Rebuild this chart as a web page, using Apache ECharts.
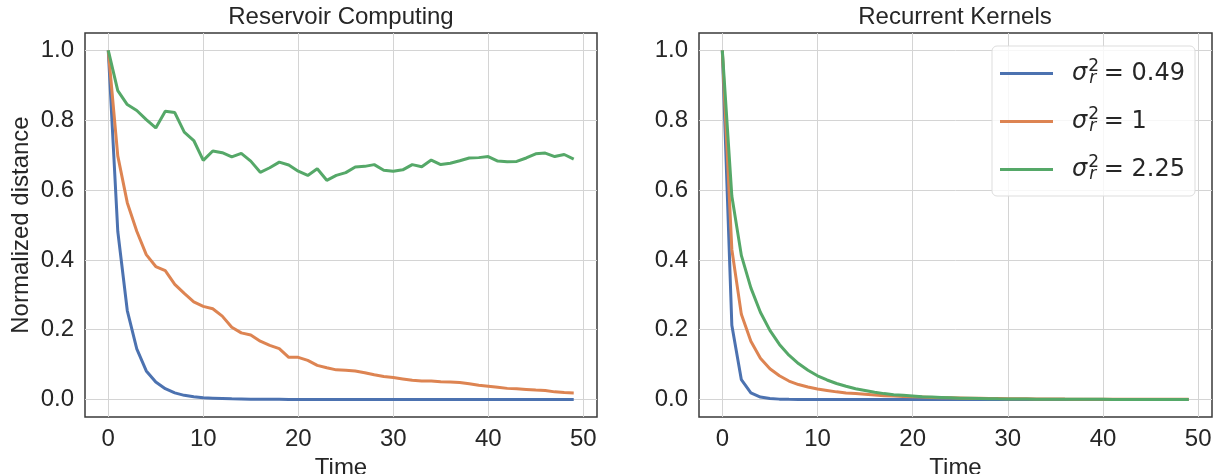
<!DOCTYPE html>
<html>
<head>
<meta charset="utf-8">
<script src="https://cdn.jsdelivr.net/npm/echarts@6/dist/echarts.min.js"></script>
<style>
  html, body { margin: 0; padding: 0; background: #fff; }
  #main { width: 1215px; height: 474px; }
</style>
</head>
<body>
<div id="main"></div>
<script>
// time steps on the x axis
const timeSteps = [0, 1, 2, 3, 4, 5, 6, 7, 8, 9, 10, 11, 12, 13, 14, 15, 16, 17, 18, 19,
    20, 21, 22, 23, 24, 25, 26, 27, 28, 29, 30, 31, 32, 33, 34, 35, 36, 37, 38, 39,
    40, 41, 42, 43, 44, 45, 46, 47, 48, 49];

const sigmaValues = ['0.49', '1', '2.25'];
const panelTitles = ['Reservoir Computing', 'Recurrent Kernels'];
const xTicks = [0, 10, 20, 30, 40, 50];
const yTicks = [0, 0.2, 0.4, 0.6, 0.8, 1.0];

// Reservoir Computing panel
const rcBlue = [1.0, 0.482, 0.255, 0.145, 0.082, 0.050, 0.031, 0.019, 0.012, 0.008,
    0.005, 0.004, 0.003, 0.002, 0.0015, 0.001, 0.0008, 0.0006, 0.0005, 0.0004,
    0.0003, 0.0003, 0.0002, 0.0002, 0.0002, 0.0001, 0.0001, 0.0001, 0.0001, 0.0001,
    0.0001, 0.0001, 0.0001, 0.0001, 0.0001, 0.0001, 0.0001, 0.0001, 0.0001, 0.0001,
    0.0001, 0.0001, 0.0001, 0.0001, 0.0001, 0.0001, 0.0001, 0.0001, 0.0001, 0.0001];
const rcOrange = [1.0, 0.698, 0.564, 0.482, 0.415, 0.381, 0.369, 0.330, 0.304, 0.280,
    0.267, 0.260, 0.239, 0.207, 0.191, 0.185, 0.167, 0.155, 0.146, 0.121,
    0.121, 0.112, 0.098, 0.091, 0.085, 0.084, 0.082, 0.077, 0.071, 0.066,
    0.063, 0.059, 0.055, 0.053, 0.053, 0.051, 0.050, 0.049, 0.045, 0.041,
    0.038, 0.035, 0.032, 0.031, 0.029, 0.027, 0.026, 0.022, 0.020, 0.019];
const rcGreen = [1.0, 0.885, 0.845, 0.828, 0.802, 0.778, 0.826, 0.822, 0.766, 0.742,
    0.685, 0.712, 0.707, 0.695, 0.705, 0.683, 0.651, 0.664, 0.680, 0.672,
    0.654, 0.642, 0.661, 0.628, 0.642, 0.650, 0.666, 0.668, 0.673, 0.657,
    0.654, 0.658, 0.673, 0.667, 0.686, 0.673, 0.677, 0.684, 0.692, 0.693,
    0.696, 0.683, 0.681, 0.682, 0.692, 0.704, 0.706, 0.696, 0.702, 0.689];

// Recurrent Kernels panel
const rkBlue = [1.0, 0.213, 0.057, 0.019, 0.007, 0.003, 0.0012, 0.0005, 0.0002, 0.0001,
    0, 0, 0, 0, 0, 0, 0, 0, 0, 0,
    0, 0, 0, 0, 0, 0, 0, 0, 0, 0,
    0, 0, 0, 0, 0, 0, 0, 0, 0, 0,
    0, 0, 0, 0, 0, 0, 0, 0, 0, 0];
const rkOrange = [1.0, 0.430, 0.244, 0.167, 0.118, 0.088, 0.068, 0.053, 0.043, 0.036,
    0.030, 0.026, 0.022, 0.019, 0.017, 0.015, 0.013, 0.011, 0.010, 0.009,
    0.008, 0.007, 0.006, 0.0055, 0.005, 0.0045, 0.004, 0.0035, 0.003, 0.0028,
    0.0025, 0.0022, 0.002, 0.0018, 0.0016, 0.0015, 0.0013, 0.0012, 0.0011, 0.001,
    0.0009, 0.0008, 0.0008, 0.0007, 0.0007, 0.0006, 0.0006, 0.0005, 0.0005, 0.0005];
const rkGreen = [1.0, 0.583, 0.413, 0.320, 0.250, 0.198, 0.158, 0.127, 0.103, 0.084,
    0.068, 0.056, 0.046, 0.038, 0.031, 0.026, 0.021, 0.017, 0.014, 0.012,
    0.010, 0.008, 0.007, 0.006, 0.005, 0.004, 0.0035, 0.003, 0.0025, 0.002,
    0.0018, 0.0015, 0.0013, 0.0011, 0.001, 0.0009, 0.0008, 0.0007, 0.0006, 0.0005,
    0.0005, 0.0004, 0.0004, 0.0003, 0.0003, 0.0003, 0.0002, 0.0002, 0.0002, 0.0002];

const colors = ['#4C72B0', '#DD8452', '#55A868'];
const textColor = '#262626';
const sansFont = '"Liberation Sans", Arial, sans-serif';
const mathFont = '"DejaVu Sans", sans-serif';

const seriesNames = sigmaValues.map(function (v) { return 'sigma_r^2 = ' + v; });

function pairs(ys) {
    return timeSteps.map(function (t, i) { return [t, ys[i]]; });
}

function makeXAxis(gridIndex) {
    return {
        type: 'value',
        gridIndex: gridIndex,
        min: -2.45,
        max: 51.45,
        name: 'Time',
        nameLocation: 'middle',
        nameGap: 32,
        nameTextStyle: { fontSize: 24, fontFamily: sansFont, color: textColor },
        axisLine: { show: false },
        axisTick: { show: false, customValues: xTicks },
        axisLabel: {
            customValues: xTicks,
            fontSize: 24, fontFamily: sansFont, color: textColor, margin: 10
        },
        splitLine: { show: true, lineStyle: { color: '#d4d4d4', width: 1 } }
    };
}

function makeYAxis(gridIndex, name) {
    return {
        type: 'value',
        gridIndex: gridIndex,
        min: -0.05,
        max: 1.05,
        name: name,
        nameLocation: 'middle',
        nameGap: 52,
        nameRotate: 90,
        nameTextStyle: { fontSize: 24, fontFamily: sansFont, color: textColor },
        axisLine: { show: false },
        axisTick: { show: false, customValues: yTicks },
        axisLabel: {
            customValues: yTicks,
            formatter: function (v) { return v.toFixed(1); },
            fontSize: 24, fontFamily: sansFont, color: textColor, margin: 11
        },
        splitLine: { show: true, lineStyle: { color: '#d4d4d4', width: 1 } }
    };
}

function makeSeries(ys, idx, panel) {
    return {
        name: seriesNames[idx],
        type: 'line',
        xAxisIndex: panel,
        yAxisIndex: panel,
        data: pairs(ys),
        symbol: 'none',
        clip: false,
        color: colors[idx],
        lineStyle: { width: 3, color: colors[idx] },
        emphasis: { disabled: true }
    };
}

const chart = echarts.init(document.getElementById('main'));

const options = {
    animation: false,
    backgroundColor: '#fff',
    title: [
        { text: panelTitles[0], left: 336, top: 0, textAlign: 'center',
          textStyle: { fontSize: 24, fontWeight: 'normal', fontFamily: sansFont, color: textColor } },
        { text: panelTitles[1], left: 950, top: 0, textAlign: 'center',
          textStyle: { fontSize: 24, fontWeight: 'normal', fontFamily: sansFont, color: textColor } }
    ],
    grid: [
        { left: 85, top: 33, width: 512, height: 384, show: true, outerBoundsMode: 'none',
          containLabel: false, borderColor: '#3a3a3a', borderWidth: 1.5, backgroundColor: '#fff' },
        { left: 699, top: 33, width: 513, height: 384, show: true, outerBoundsMode: 'none',
          containLabel: false, borderColor: '#3a3a3a', borderWidth: 1.5, backgroundColor: '#fff' }
    ],
    xAxis: [makeXAxis(0), makeXAxis(1)],
    yAxis: [makeYAxis(0, 'Normalized distance'), makeYAxis(1, '')],
    legend: {
        data: seriesNames,
        orient: 'vertical',
        left: 992,
        top: 46,
        padding: [12, 10, 13, 8],
        icon: 'rect',
        itemWidth: 53,
        itemHeight: 3,
        itemGap: 19,
        selectedMode: false,
        backgroundColor: 'rgba(255,255,255,0.8)',
        borderColor: '#dddddd',
        borderWidth: 1,
        borderRadius: 5,
        formatter: function (name) {
            const v = sigmaValues[seriesNames.indexOf(name)];
            return '{s|σ}{sup|2}{sub|r}{e| = ' + v + '}';
        },
        textStyle: {
            color: textColor,
            rich: {
                s: { fontFamily: mathFont, fontStyle: 'italic', fontSize: 24, padding: [0, 0, 0, 14], lineHeight: 34 },
                sup: { fontFamily: mathFont, fontSize: 17, width: 0, padding: [0, 0, 14, 1] },
                sub: { fontFamily: mathFont, fontStyle: 'italic', fontSize: 17, padding: [10, 0, 0, 1] },
                e: { fontFamily: mathFont, fontSize: 24 }
            }
        }
    },
    series: [
        makeSeries(rcBlue, 0, 0),
        makeSeries(rcOrange, 1, 0),
        makeSeries(rcGreen, 2, 0),
        makeSeries(rkBlue, 0, 1),
        makeSeries(rkOrange, 1, 1),
        makeSeries(rkGreen, 2, 1)
    ]
};

chart.setOption(options);
</script>
</body>
</html>
